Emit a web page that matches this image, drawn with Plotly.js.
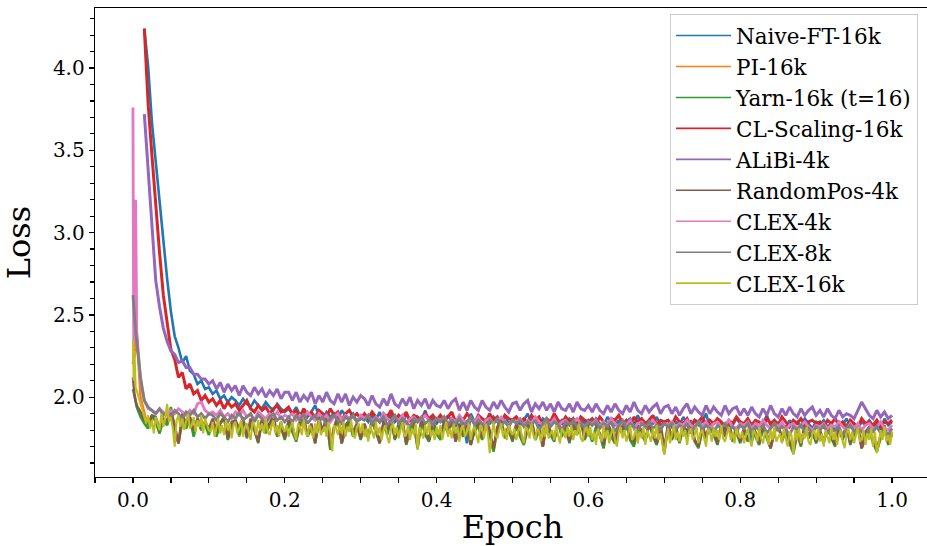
<!DOCTYPE html>
<html>
<head>
<meta charset="utf-8">
<script src="https://cdn.plot.ly/plotly-3.0.1.min.js"></script>
<style>html,body{margin:0;padding:0;overflow:hidden;background:#fff;}#chart{width:932px;height:546px;}</style>
</head>
<body>
<div id="chart"></div>
<script>
// Shared logging grid (epochs)
const epochs = [0,0.001,0.002,0.0035,
0.005,0.01,0.015,0.02,0.025,0.03,0.035,0.04,0.045,0.05,0.055,0.06,0.065,0.07,0.075,0.08,0.085,0.09,0.095,0.1,
0.105,0.11,0.115,0.12,0.125,0.13,0.135,0.14,0.145,0.15,0.155,0.16,0.165,0.17,0.175,0.18,0.185,0.19,0.195,0.2,
0.205,0.21,0.215,0.22,0.225,0.23,0.235,0.24,0.245,0.25,0.255,0.26,0.265,0.27,0.275,0.28,0.285,0.29,0.295,0.3,
0.305,0.31,0.315,0.32,0.325,0.33,0.335,0.34,0.345,0.35,0.355,0.36,0.365,0.37,0.375,0.38,0.385,0.39,0.395,0.4,
0.405,0.41,0.415,0.42,0.425,0.43,0.435,0.44,0.445,0.45,0.455,0.46,0.465,0.47,0.475,0.48,0.485,0.49,0.495,0.5,
0.505,0.51,0.515,0.52,0.525,0.53,0.535,0.54,0.545,0.55,0.555,0.56,0.565,0.57,0.575,0.58,0.585,0.59,0.595,0.6,
0.605,0.61,0.615,0.62,0.625,0.63,0.635,0.64,0.645,0.65,0.655,0.66,0.665,0.67,0.675,0.68,0.685,0.69,0.695,0.7,
0.705,0.71,0.715,0.72,0.725,0.73,0.735,0.74,0.745,0.75,0.755,0.76,0.765,0.77,0.775,0.78,0.785,0.79,0.795,0.8,
0.805,0.81,0.815,0.82,0.825,0.83,0.835,0.84,0.845,0.85,0.855,0.86,0.865,0.87,0.875,0.88,0.885,0.89,0.895,0.9,
0.905,0.91,0.915,0.92,0.925,0.93,0.935,0.94,0.945,0.95,0.955,0.96,0.965,0.97,0.975,0.98,0.985,0.99,0.995,1.0];

// Finer logging grid used by the CLEX-16k run
const epochsFine = [0,0.001,0.002,0.0035,
0.005,0.0075,0.01,0.0125,0.015,0.0175,0.02,0.0225,0.025,0.0275,0.03,0.0325,0.035,0.0375,0.04,0.0425,0.045,0.0475,0.05,0.0525,0.055,0.0575,0.06,0.0625,0.065,0.0675,0.07,0.0725,0.075,0.0775,0.08,0.0825,0.085,0.0875,0.09,0.0925,0.095,0.0975,0.1,
0.1025,0.105,0.1075,0.11,0.1125,0.115,0.1175,0.12,0.1225,0.125,0.1275,0.13,0.1325,0.135,0.1375,0.14,0.1425,0.145,0.1475,0.15,0.1525,0.155,0.1575,0.16,0.1625,0.165,0.1675,0.17,0.1725,0.175,0.1775,0.18,0.1825,0.185,0.1875,0.19,0.1925,0.195,0.1975,0.2,
0.2025,0.205,0.2075,0.21,0.2125,0.215,0.2175,0.22,0.2225,0.225,0.2275,0.23,0.2325,0.235,0.2375,0.24,0.2425,0.245,0.2475,0.25,0.2525,0.255,0.2575,0.26,0.2625,0.265,0.2675,0.27,0.2725,0.275,0.2775,0.28,0.2825,0.285,0.2875,0.29,0.2925,0.295,0.2975,0.3,
0.3025,0.305,0.3075,0.31,0.3125,0.315,0.3175,0.32,0.3225,0.325,0.3275,0.33,0.3325,0.335,0.3375,0.34,0.3425,0.345,0.3475,0.35,0.3525,0.355,0.3575,0.36,0.3625,0.365,0.3675,0.37,0.3725,0.375,0.3775,0.38,0.3825,0.385,0.3875,0.39,0.3925,0.395,0.3975,0.4,
0.4025,0.405,0.4075,0.41,0.4125,0.415,0.4175,0.42,0.4225,0.425,0.4275,0.43,0.4325,0.435,0.4375,0.44,0.4425,0.445,0.4475,0.45,0.4525,0.455,0.4575,0.46,0.4625,0.465,0.4675,0.47,0.4725,0.475,0.4775,0.48,0.4825,0.485,0.4875,0.49,0.4925,0.495,0.4975,0.5,
0.5025,0.505,0.5075,0.51,0.5125,0.515,0.5175,0.52,0.5225,0.525,0.5275,0.53,0.5325,0.535,0.5375,0.54,0.5425,0.545,0.5475,0.55,0.5525,0.555,0.5575,0.56,0.5625,0.565,0.5675,0.57,0.5725,0.575,0.5775,0.58,0.5825,0.585,0.5875,0.59,0.5925,0.595,0.5975,0.6,
0.6025,0.605,0.6075,0.61,0.6125,0.615,0.6175,0.62,0.6225,0.625,0.6275,0.63,0.6325,0.635,0.6375,0.64,0.6425,0.645,0.6475,0.65,0.6525,0.655,0.6575,0.66,0.6625,0.665,0.6675,0.67,0.6725,0.675,0.6775,0.68,0.6825,0.685,0.6875,0.69,0.6925,0.695,0.6975,0.7,
0.7025,0.705,0.7075,0.71,0.7125,0.715,0.7175,0.72,0.7225,0.725,0.7275,0.73,0.7325,0.735,0.7375,0.74,0.7425,0.745,0.7475,0.75,0.7525,0.755,0.7575,0.76,0.7625,0.765,0.7675,0.77,0.7725,0.775,0.7775,0.78,0.7825,0.785,0.7875,0.79,0.7925,0.795,0.7975,0.8,
0.8025,0.805,0.8075,0.81,0.8125,0.815,0.8175,0.82,0.8225,0.825,0.8275,0.83,0.8325,0.835,0.8375,0.84,0.8425,0.845,0.8475,0.85,0.8525,0.855,0.8575,0.86,0.8625,0.865,0.8675,0.87,0.8725,0.875,0.8775,0.88,0.8825,0.885,0.8875,0.89,0.8925,0.895,0.8975,0.9,
0.9025,0.905,0.9075,0.91,0.9125,0.915,0.9175,0.92,0.9225,0.925,0.9275,0.93,0.9325,0.935,0.9375,0.94,0.9425,0.945,0.9475,0.95,0.9525,0.955,0.9575,0.96,0.9625,0.965,0.9675,0.97,0.9725,0.975,0.9775,0.98,0.9825,0.985,0.9875,0.99,0.9925,0.995,0.9975,1.0];

// Runs logged from epoch 0.015 onward use epochs from this index
const lateStartIndex = 6;

const seriesNames = ['Naive-FT-16k','PI-16k','Yarn-16k (t=16)','CL-Scaling-16k','ALiBi-4k','RandomPos-4k','CLEX-4k','CLEX-8k','CLEX-16k'];

const naiveFT16k = [
4.24,4.01,3.67,3.43,3.20,2.97,2.72,2.52,2.37,2.30,2.21,2.25,2.16,2.14,2.08,2.10,2.05,2.06,
2.02,2.04,1.99,2.01,1.97,2.00,1.98,1.95,1.99,1.96,1.94,1.98,1.95,1.93,1.97,1.94,1.92,1.96,1.93,1.91,
1.93,1.90,1.94,1.89,1.92,1.88,1.91,1.95,1.89,1.87,1.91,1.88,1.90,1.86,1.92,1.89,1.87,1.90,1.85,1.89,
1.88,1.85,1.89,1.86,1.91,1.84,1.87,1.89,1.85,1.88,1.83,1.90,1.86,1.84,1.88,1.86,1.92,1.85,1.87,1.84,
1.87,1.84,1.89,1.85,1.82,1.88,1.86,1.72,1.90,1.85,1.87,1.81,1.86,1.84,1.88,1.85,1.83,1.89,1.84,1.86,
1.88,1.83,1.86,1.90,1.84,1.86,1.82,1.87,1.85,1.83,1.89,1.84,1.86,1.81,1.87,1.85,1.83,1.88,1.84,1.86,
1.83,1.87,1.84,1.82,1.88,1.85,1.83,1.86,1.80,1.85,1.87,1.83,1.89,1.84,1.82,1.86,1.84,1.88,1.83,1.85,
1.86,1.82,1.85,1.83,1.88,1.84,1.81,1.86,1.83,1.85,1.90,1.82,1.84,1.86,1.83,1.80,1.85,1.83,1.87,1.84,
1.82,1.86,1.72,1.85,1.81,1.84,1.89,1.83,1.85,1.82,1.84,1.80,1.86,1.83,1.85,1.82,1.87,1.84,1.81,1.85,
1.83,1.86,1.82,1.84,1.80,1.85,1.83,1.87,1.82,1.84,1.81,1.85,1.83,1.86,1.82,1.84,1.80,1.87,1.83,1.85];

const pi16k = [2.20,2.28,2.24,2.33,
2.38,2.00,1.90,1.81,1.88,1.86,1.78,1.86,1.83,1.93,1.80,1.72,1.85,1.81,1.87,1.77,1.86,1.80,1.83,1.78,
1.85,1.77,1.84,1.87,1.75,1.81,1.86,1.76,1.86,1.76,1.83,1.80,1.73,1.85,1.79,1.82,1.87,1.77,1.81,1.75,
1.84,1.79,1.74,1.82,1.86,1.77,1.80,1.73,1.84,1.79,1.87,1.68,1.81,1.85,1.72,1.81,1.84,1.77,1.82,1.75,
1.82,1.76,1.85,1.79,1.73,1.83,1.78,1.86,1.75,1.80,1.84,1.72,1.80,1.83,1.69,1.85,1.78,1.74,1.82,1.77,
1.75,1.83,1.79,1.85,1.74,1.80,1.77,1.84,1.71,1.80,1.82,1.75,1.85,1.78,1.67,1.80,1.84,1.76,1.79,1.74,
1.82,1.77,1.72,1.80,1.85,1.75,1.79,1.70,1.83,1.78,1.74,1.84,1.77,1.81,1.73,1.82,1.78,1.85,1.75,1.79,
1.74,1.81,1.78,1.69,1.83,1.77,1.73,1.82,1.77,1.84,1.75,1.71,1.81,1.78,1.74,1.83,1.77,1.72,1.80,1.66,
1.82,1.75,1.79,1.73,1.81,1.77,1.84,1.74,1.70,1.79,1.76,1.82,1.78,1.72,1.81,1.77,1.83,1.74,1.78,1.73,
1.79,1.74,1.82,1.77,1.72,1.81,1.76,1.69,1.78,1.83,1.74,1.79,1.73,1.66,1.77,1.71,1.82,1.76,1.78,1.73,
1.78,1.73,1.81,1.76,1.71,1.80,1.75,1.82,1.72,1.77,1.81,1.69,1.75,1.80,1.73,1.67,1.75,1.81,1.72,1.77];

const yarn16k = [2.05,2.03,2.00,1.97,
1.94,1.88,1.84,1.81,1.89,1.85,1.78,1.87,1.83,1.94,1.79,1.72,1.86,1.81,1.88,1.76,1.87,1.80,1.84,1.77,
1.86,1.76,1.84,1.88,1.74,1.82,1.86,1.77,1.87,1.75,1.84,1.80,1.72,1.86,1.78,1.84,1.88,1.76,1.82,1.74,
1.85,1.79,1.73,1.84,1.87,1.76,1.82,1.72,1.85,1.79,1.88,1.68,1.82,1.86,1.72,1.80,1.85,1.76,1.84,1.74,
1.83,1.75,1.86,1.79,1.72,1.84,1.77,1.87,1.74,1.81,1.85,1.71,1.79,1.84,1.69,1.86,1.77,1.73,1.83,1.78,
1.74,1.84,1.78,1.86,1.73,1.81,1.76,1.85,1.71,1.79,1.83,1.74,1.86,1.77,1.67,1.81,1.85,1.75,1.80,1.73,
1.83,1.76,1.71,1.81,1.86,1.74,1.80,1.70,1.84,1.77,1.73,1.85,1.76,1.82,1.72,1.83,1.77,1.86,1.74,1.80,
1.73,1.82,1.77,1.69,1.84,1.76,1.72,1.83,1.78,1.85,1.74,1.70,1.82,1.77,1.73,1.84,1.76,1.71,1.81,1.66,
1.83,1.74,1.80,1.72,1.82,1.76,1.85,1.73,1.69,1.80,1.75,1.83,1.77,1.71,1.82,1.76,1.84,1.73,1.79,1.72,
1.80,1.73,1.83,1.76,1.71,1.82,1.75,1.69,1.79,1.84,1.73,1.80,1.72,1.66,1.78,1.70,1.83,1.75,1.79,1.72,
1.79,1.72,1.82,1.75,1.70,1.81,1.74,1.83,1.71,1.78,1.82,1.69,1.76,1.81,1.72,1.67,1.76,1.82,1.71,1.78];

const clScaling16k = [
4.24,3.78,3.47,3.15,2.88,2.62,2.45,2.29,2.23,2.12,2.15,2.05,2.08,2.02,2.04,1.98,2.01,1.97,
1.99,1.95,1.98,1.93,1.97,1.94,1.96,1.92,1.95,1.98,1.93,1.91,1.95,1.92,1.94,1.90,1.93,1.95,1.91,1.92,
1.94,1.90,1.92,1.88,1.93,1.89,1.91,1.87,1.92,1.90,1.88,1.93,1.89,1.91,1.86,1.90,1.92,1.88,1.90,1.87,
1.90,1.87,1.91,1.88,1.85,1.90,1.88,1.92,1.86,1.89,1.87,1.91,1.85,1.89,1.88,1.86,1.90,1.87,1.89,1.86,
1.89,1.86,1.88,1.91,1.85,1.88,1.86,1.90,1.87,1.84,1.89,1.87,1.85,1.90,1.86,1.88,1.84,1.89,1.87,1.86,
1.88,1.85,1.87,1.84,1.89,1.86,1.88,1.83,1.87,1.85,1.90,1.86,1.84,1.88,1.85,1.87,1.83,1.88,1.86,1.85,
1.87,1.84,1.88,1.85,1.83,1.87,1.86,1.89,1.84,1.86,1.82,1.88,1.85,1.87,1.84,1.86,1.89,1.83,1.86,1.85,
1.86,1.83,1.88,1.85,1.84,1.87,1.82,1.86,1.85,1.88,1.83,1.86,1.84,1.87,1.85,1.82,1.86,1.84,1.88,1.85,
1.84,1.87,1.83,1.86,1.85,1.82,1.87,1.84,1.86,1.83,1.88,1.85,1.82,1.86,1.84,1.87,1.83,1.85,1.86,1.84,
1.85,1.82,1.86,1.84,1.87,1.83,1.85,1.81,1.86,1.84,1.82,1.87,1.84,1.85,1.83,1.86,1.82,1.85,1.84,1.86];

const alibi4k = [
3.72,3.38,3.01,2.71,2.55,2.42,2.34,2.28,2.26,2.21,2.22,2.18,2.18,2.14,2.14,2.11,2.11,2.08,
2.10,2.05,2.09,2.03,2.08,2.04,2.07,2.01,2.07,2.03,2.01,2.06,2.02,2.05,2.00,2.04,2.01,2.05,1.99,2.03,
2.03,1.98,2.03,1.97,2.01,1.98,2.03,1.96,2.01,1.97,2.03,1.98,1.96,2.02,1.97,2.02,1.95,2.00,1.97,2.01,
1.99,1.95,2.01,1.96,1.94,1.99,1.95,2.02,1.96,1.94,1.99,1.95,2.00,1.93,1.98,1.95,1.99,1.93,1.98,1.95,
1.94,1.98,1.93,1.97,1.99,1.92,1.97,1.92,1.98,1.94,1.92,1.98,1.94,1.92,1.97,1.93,1.98,1.94,1.91,1.96,
1.97,1.92,1.96,1.98,1.91,1.96,1.93,1.97,1.92,1.96,1.91,1.97,1.93,1.92,1.96,1.91,1.97,1.93,1.92,1.95,
1.91,1.96,1.92,1.90,1.95,1.91,1.96,1.92,1.90,1.95,1.91,1.97,1.92,1.90,1.95,1.91,1.94,1.96,1.90,1.94,
1.95,1.90,1.94,1.89,1.93,1.96,1.90,1.94,1.91,1.89,1.95,1.90,1.94,1.91,1.89,1.95,1.90,1.93,1.94,1.89,
1.93,1.89,1.94,1.90,1.88,1.93,1.89,1.95,1.90,1.88,1.93,1.89,1.94,1.90,1.88,1.93,1.89,1.92,1.94,1.89,
1.92,1.88,1.93,1.89,1.87,1.92,1.88,1.90,1.89,1.87,1.92,1.97,1.93,1.89,1.87,1.92,1.88,1.91,1.87,1.89];

const randomPos4k = [2.12,2.06,2.02,1.98,
1.95,1.91,1.86,1.84,1.89,1.88,1.81,1.87,1.86,1.92,1.83,1.72,1.90,1.84,1.88,1.80,1.87,1.83,1.85,1.81,
1.87,1.80,1.84,1.88,1.75,1.85,1.86,1.81,1.88,1.76,1.87,1.80,1.73,1.87,1.82,1.84,1.89,1.77,1.85,1.75,
1.86,1.82,1.74,1.86,1.87,1.77,1.84,1.72,1.88,1.79,1.89,1.71,1.82,1.89,1.72,1.83,1.86,1.79,1.84,1.75,
1.84,1.76,1.87,1.81,1.72,1.85,1.80,1.88,1.75,1.84,1.86,1.72,1.82,1.85,1.71,1.87,1.80,1.74,1.86,1.79,
1.77,1.85,1.79,1.87,1.73,1.84,1.77,1.86,1.71,1.82,1.84,1.75,1.87,1.80,1.69,1.82,1.86,1.76,1.83,1.74,
1.84,1.79,1.72,1.84,1.87,1.75,1.83,1.70,1.85,1.80,1.74,1.86,1.79,1.83,1.73,1.86,1.78,1.87,1.75,1.83,
1.86,1.83,1.78,1.71,1.85,1.79,1.73,1.84,1.81,1.86,1.75,1.73,1.83,1.80,1.74,1.85,1.77,1.72,1.84,1.69,
1.84,1.75,1.83,1.73,1.83,1.79,1.86,1.74,1.70,1.83,1.76,1.84,1.80,1.72,1.83,1.77,1.85,1.74,1.82,1.73,
1.81,1.74,1.84,1.79,1.72,1.83,1.78,1.69,1.80,1.85,1.74,1.83,1.73,1.68,1.79,1.71,1.84,1.76,1.82,1.73,
1.80,1.73,1.83,1.78,1.71,1.82,1.75,1.84,1.72,1.81,1.83,1.69,1.79,1.82,1.73,1.69,1.77,1.83,1.72,1.79];

const clex4k = [3.76,2.30,2.45,3.20,
2.40,2.10,1.98,1.93,1.92,1.90,1.93,1.91,1.89,1.92,1.90,1.93,1.91,1.89,1.92,1.90,1.96,1.97,1.92,1.90,
1.91,1.89,1.92,1.88,1.90,1.87,1.91,1.89,1.92,1.88,1.90,1.86,1.91,1.89,1.87,1.90,1.88,1.91,1.87,1.89,
1.88,1.90,1.86,1.89,1.87,1.91,1.88,1.86,1.90,1.87,1.89,1.85,1.88,1.90,1.86,1.89,1.87,1.88,1.85,1.89,
1.87,1.89,1.85,1.88,1.86,1.90,1.87,1.85,1.88,1.86,1.89,1.84,1.87,1.88,1.85,1.87,1.89,1.86,1.84,1.87,
1.86,1.88,1.84,1.87,1.85,1.89,1.86,1.84,1.87,1.85,1.88,1.83,1.86,1.87,1.84,1.86,1.88,1.85,1.83,1.86,
1.85,1.87,1.83,1.86,1.84,1.88,1.85,1.83,1.86,1.84,1.87,1.82,1.85,1.86,1.83,1.85,1.87,1.84,1.82,1.85,
1.84,1.86,1.82,1.85,1.83,1.87,1.84,1.82,1.85,1.83,1.86,1.81,1.84,1.85,1.82,1.84,1.86,1.83,1.81,1.84,
1.83,1.85,1.82,1.84,1.83,1.86,1.83,1.81,1.85,1.82,1.85,1.81,1.84,1.85,1.82,1.83,1.86,1.82,1.81,1.84,
1.83,1.85,1.81,1.84,1.82,1.86,1.83,1.81,1.84,1.82,1.85,1.80,1.83,1.84,1.81,1.83,1.85,1.82,1.80,1.83,
1.82,1.84,1.81,1.83,1.82,1.85,1.82,1.80,1.84,1.81,1.84,1.80,1.83,1.84,1.81,1.82,1.85,1.81,1.80,1.83];

const clex8k = [2.62,2.55,2.50,2.40,
2.34,2.12,1.98,1.94,1.92,1.90,1.93,1.89,1.91,1.88,1.92,1.90,1.87,1.91,1.89,1.92,1.88,1.90,1.87,1.90,
1.89,1.86,1.90,1.88,1.85,1.89,1.87,1.91,1.86,1.88,1.90,1.85,1.89,1.87,1.84,1.88,1.90,1.86,1.88,1.85,
1.88,1.85,1.89,1.86,1.90,1.84,1.87,1.89,1.85,1.88,1.83,1.87,1.89,1.86,1.84,1.88,1.86,1.89,1.85,1.87,
1.86,1.89,1.84,1.87,1.85,1.88,1.83,1.86,1.89,1.84,1.87,1.85,1.82,1.87,1.85,1.88,1.84,1.86,1.83,1.87,
1.85,1.88,1.83,1.86,1.84,1.87,1.82,1.85,1.88,1.83,1.86,1.84,1.81,1.86,1.84,1.87,1.83,1.85,1.82,1.86,
1.84,1.86,1.82,1.85,1.83,1.86,1.80,1.84,1.87,1.82,1.85,1.83,1.80,1.85,1.83,1.86,1.82,1.84,1.81,1.85,
1.83,1.85,1.81,1.84,1.82,1.85,1.79,1.83,1.86,1.81,1.84,1.82,1.79,1.84,1.82,1.85,1.81,1.83,1.80,1.84,
1.82,1.84,1.80,1.83,1.81,1.84,1.78,1.82,1.85,1.80,1.83,1.81,1.78,1.83,1.81,1.84,1.80,1.82,1.79,1.83,
1.81,1.84,1.79,1.82,1.80,1.83,1.78,1.81,1.84,1.80,1.82,1.80,1.77,1.82,1.80,1.83,1.79,1.81,1.78,1.82,
1.80,1.83,1.78,1.81,1.79,1.82,1.77,1.80,1.83,1.79,1.81,1.79,1.76,1.81,1.79,1.82,1.78,1.80,1.77,1.81];

// CLEX-16k on the finer grid (epochsFine)
const clex16k = [2.35,2.10,2.28,2.06,
2.04,2.00,1.95,1.92,1.88,1.84,1.89,1.81,1.86,1.78,1.88,1.84,1.80,1.90,1.82,1.87,1.96,1.85,1.88,1.81,1.70,1.86,1.89,1.82,1.87,1.80,1.85,1.90,1.81,1.83,1.88,1.79,1.86,1.82,1.89,1.78,1.87,1.84,1.80,
1.79,1.85,1.76,1.82,1.87,1.78,1.83,1.77,1.86,1.80,1.84,1.75,1.83,1.85,1.78,1.81,1.86,1.76,1.82,1.84,1.79,1.74,1.85,1.83,1.77,1.86,1.80,1.84,1.78,1.87,1.79,1.77,1.82,1.86,1.78,1.83,1.76,1.85,1.81,1.79,
1.83,1.76,1.81,1.85,1.78,1.74,1.84,1.82,1.77,1.86,1.79,1.76,1.83,1.81,1.75,1.84,1.78,1.86,1.77,1.80,1.82,1.76,1.85,1.79,1.67,1.83,1.81,1.77,1.84,1.78,1.85,1.76,1.82,1.79,1.86,1.77,1.75,1.82,1.84,1.78,
1.84,1.76,1.81,1.73,1.83,1.79,1.75,1.85,1.77,1.82,1.74,1.80,1.83,1.76,1.72,1.81,1.84,1.77,1.82,1.75,1.80,1.85,1.76,1.78,1.83,1.74,1.81,1.77,1.84,1.68,1.82,1.79,1.75,1.83,1.77,1.85,1.76,1.80,1.74,1.82,
1.77,1.83,1.74,1.80,1.85,1.76,1.81,1.75,1.84,1.78,1.82,1.73,1.81,1.83,1.76,1.79,1.84,1.74,1.80,1.82,1.77,1.72,1.83,1.81,1.75,1.84,1.78,1.66,1.76,1.85,1.77,1.75,1.80,1.84,1.76,1.81,1.74,1.83,1.79,1.77,
1.81,1.74,1.79,1.83,1.76,1.72,1.82,1.80,1.75,1.84,1.77,1.74,1.81,1.79,1.73,1.82,1.76,1.84,1.75,1.78,1.80,1.74,1.83,1.77,1.72,1.81,1.79,1.75,1.82,1.76,1.83,1.74,1.80,1.77,1.84,1.75,1.73,1.80,1.82,1.76,
1.82,1.74,1.79,1.71,1.81,1.77,1.73,1.83,1.75,1.80,1.72,1.78,1.81,1.74,1.70,1.79,1.82,1.75,1.80,1.73,1.78,1.83,1.74,1.76,1.81,1.72,1.79,1.75,1.82,1.71,1.80,1.77,1.73,1.81,1.75,1.83,1.74,1.78,1.72,1.65,
1.75,1.81,1.72,1.78,1.83,1.74,1.79,1.73,1.82,1.76,1.80,1.71,1.79,1.81,1.74,1.77,1.82,1.72,1.78,1.80,1.75,1.70,1.81,1.79,1.73,1.82,1.76,1.80,1.74,1.83,1.75,1.73,1.78,1.82,1.74,1.79,1.72,1.81,1.77,1.75,
1.79,1.72,1.77,1.81,1.74,1.70,1.80,1.78,1.73,1.82,1.75,1.72,1.79,1.77,1.71,1.80,1.74,1.82,1.73,1.76,1.78,1.72,1.81,1.75,1.70,1.79,1.77,1.65,1.80,1.74,1.81,1.72,1.78,1.75,1.82,1.73,1.71,1.78,1.80,1.74,
1.81,1.73,1.78,1.70,1.80,1.76,1.72,1.82,1.74,1.79,1.71,1.77,1.80,1.73,1.69,1.78,1.81,1.74,1.79,1.72,1.77,1.82,1.73,1.75,1.80,1.71,1.78,1.74,1.81,1.70,1.79,1.66,1.72,1.80,1.74,1.82,1.73,1.77,1.71,1.79];

const colors = ['#1f77b4','#ff7f0e','#2ca02c','#d62728','#9467bd','#8c564b','#e377c2','#7f7f7f','#bcbd22'];
const lineWidths = [2.6,2.5,2.5,3.0,3.0,2.5,2.8,2.8,2.1];
const lateEpochs = epochs.slice(lateStartIndex);
const seriesData = [
  [lateEpochs, naiveFT16k],
  [epochs, pi16k],
  [epochs, yarn16k],
  [lateEpochs, clScaling16k],
  [lateEpochs, alibi4k],
  [epochs, randomPos4k],
  [epochs, clex4k],
  [epochs, clex8k],
  [epochsFine, clex16k]
];

const FONT = 'DejaVu Serif, serif';
// Data traces (legend entries drawn by thin legend-only traces below)
const traces = seriesData.map((d, i) => ({
  x: d[0], y: d[1], type: 'scatter', mode: 'lines',
  name: seriesNames[i], showlegend: false,
  line: {color: colors[i], width: lineWidths[i]},
  hoverinfo: 'skip'
}));
const legendTraces = seriesNames.map((n, i) => ({
  x: [null], y: [null], type: 'scatter', mode: 'lines',
  name: n, legendgroup: 'g' + i, showlegend: true,
  line: {color: colors[i], width: 1.6}
}));

const axisCommon = {
  showline: true, mirror: true, linecolor: '#000', linewidth: 1.3,
  showgrid: false, zeroline: false,
  ticks: 'outside', ticklen: 5, tickwidth: 1.2, tickcolor: '#000',
  tickfont: {family: FONT, size: 20, color: '#000'},
  tickformat: '.1f'
};

const layout = {
  width: 932, height: 546,
  margin: {l: 95, r: 2, t: 8, b: 69},
  paper_bgcolor: '#fff', plot_bgcolor: '#fff',
  showlegend: true,
  xaxis: Object.assign({}, axisCommon, {
    range: [-0.05, 1.05], tick0: 0, dtick: 0.2,
    minor: {dtick: 0.05, ticks: 'outside', ticklen: 5, tickwidth: 1.2, tickcolor: '#000', showgrid: false},
    title: {text: 'Epoch', font: {family: FONT, size: 32, color: '#000'}, standoff: 8}
  }),
  yaxis: Object.assign({}, axisCommon, {
    range: [1.515, 4.365], tick0: 0, dtick: 0.5,
    minor: {dtick: 0.1, ticks: 'outside', ticklen: 4, tickwidth: 1.2, tickcolor: '#000', showgrid: false},
    title: {text: 'Loss', font: {family: FONT, size: 32, color: '#000'}, standoff: 12}
  }),
  legend: {
    x: 0.6886, y: 0.987, xanchor: 'left', yanchor: 'top',
    bgcolor: 'rgba(255,255,255,0.85)', bordercolor: '#cccccc', borderwidth: 1,
    font: {family: FONT, size: 21.5, color: '#000'},
    tracegroupgap: 0, itemwidth: 55
  }
};

Plotly.newPlot('chart', traces.concat(legendTraces), layout, {staticPlot: true, displayModeBar: false});
</script>
</body>
</html>
